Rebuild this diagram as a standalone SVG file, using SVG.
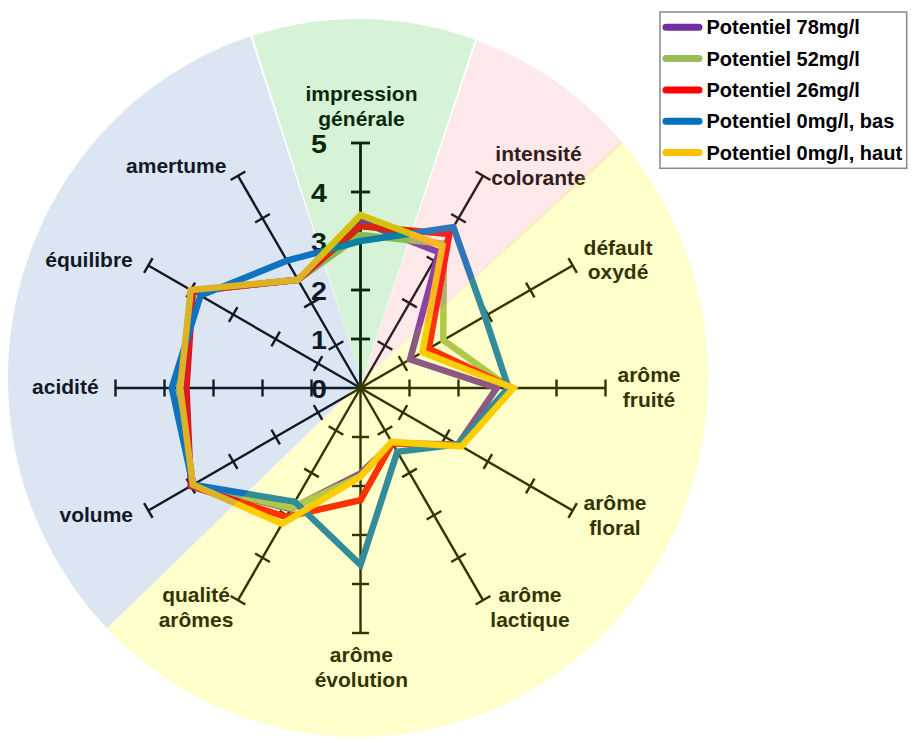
<svg xmlns="http://www.w3.org/2000/svg" width="913" height="743" viewBox="0 0 913 743">
<style>
.lbl{font-family:"Liberation Sans",Arial,sans-serif;font-weight:bold;font-size:21px;fill:#000;text-anchor:middle}
.num{font-family:"Liberation Sans",Arial,sans-serif;font-weight:bold;font-size:25.5px;fill:#000;text-anchor:middle}
.leg{font-family:"Liberation Sans",Arial,sans-serif;font-weight:bold;font-size:20px;fill:#000}
.s{fill:none;stroke-width:6.5;stroke-linejoin:miter;stroke-miterlimit:6}
.sw{stroke-width:7;stroke-linecap:round}
</style>
<defs>
<g id="axis" stroke="#000" stroke-width="2.4">
<line x1="360.5" y1="388" x2="360.5" y2="143"/>
<line x1="352" y1="339" x2="369" y2="339"/>
<line x1="352" y1="290" x2="369" y2="290"/>
<line x1="352" y1="241" x2="369" y2="241"/>
<line x1="352" y1="192" x2="369" y2="192"/>
<line x1="352" y1="143" x2="369" y2="143"/>
</g>
</defs>
<rect width="913" height="743" fill="#fff"/>

<g id="axes">
<g id="axis-impression" stroke="#000" stroke-width="2.8">
<line x1="360.5" y1="388" x2="360.5" y2="143"/>
<line x1="351" y1="339" x2="370" y2="339"/>
<line x1="351" y1="290" x2="370" y2="290"/>
<line x1="351" y1="241" x2="370" y2="241"/>
<line x1="351" y1="192" x2="370" y2="192"/>
<line x1="351" y1="143" x2="370" y2="143"/>
</g>
<use href="#axis" transform="rotate(30 360.5 388)"/>
<use href="#axis" transform="rotate(60 360.5 388)"/>
<use href="#axis" transform="rotate(90 360.5 388)"/>
<use href="#axis" transform="rotate(120 360.5 388)"/>
<use href="#axis" transform="rotate(150 360.5 388)"/>
<use href="#axis" transform="rotate(180 360.5 388)"/>
<use href="#axis" transform="rotate(210 360.5 388)"/>
<use href="#axis" transform="rotate(240 360.5 388)"/>
<use href="#axis" transform="rotate(270 360.5 388)"/>
<use href="#axis" transform="rotate(300 360.5 388)"/>
<use href="#axis" transform="rotate(330 360.5 388)"/>
</g>

<g id="scale">
<g transform="translate(319 0) scale(1.12 1)">
<text class="num" x="0" y="153.5">5</text>
<text class="num" x="0" y="202.5">4</text>
<text class="num" x="0" y="251.5">3</text>
<text class="num" x="0" y="300.5">2</text>
<text class="num" x="0" y="349.5">1</text>
<text class="num" x="0" y="398.5">0</text>
</g>
</g>

<g id="series">
<polygon id="s78" class="s" stroke="#7030A0" points="360.5,221.4 438.9,252.2 410.1,359.3 496.7,388 458.1,444.4 392.4,443.2 360.5,473.3 290.7,509 192.9,484.8 179.2,388 192.9,291.2 298,279.8"/>
<polygon id="s52" class="s" stroke="#9BBB59" points="360.5,235.1 443.8,243.7 443.3,340.2 510,388 460.2,445.6 392.4,443.2 360.5,476.2 291.2,508.1 192.9,484.8 179.2,388 192.9,291.2 298,279.8"/>
<polygon id="s26" class="s" stroke="#FF0000" points="360.5,226.3 449.4,234 428.8,348.6 512.4,388 460.2,445.6 392.4,443.2 360.5,500.2 286,517 190.8,486 186.5,388 192.9,291.2 298,279.8"/>
<polygon id="s0bas" class="s" stroke="#0070C0" points="360.5,241 453.4,227.2 484.8,316.2 508.5,388 458.1,444.4 397.3,451.7 360.5,564.9 294.8,501.7 192.9,484.8 171.8,388 200.5,295.6 287,260.7"/>
<polygon id="s0haut" class="s" stroke="#FFC000" points="360.5,215 442.6,245.8 422.4,352.2 513.4,388 461.5,446.3 391.6,441.9 360.5,476.7 282.1,523.8 192.9,484.8 180.2,388 190.8,290 298,279.8"/>
</g>

<g id="labels">
<g id="lbl-impression"><text class="lbl" x="361.5" y="100.5">impression</text><text class="lbl" x="361.5" y="126">générale</text></g>
<g id="lbl-intensite"><text class="lbl" x="538.5" y="161">intensité</text><text class="lbl" x="538.5" y="185">colorante</text></g>
<g id="lbl-oxyde"><text class="lbl" x="618" y="255">défault</text><text class="lbl" x="618" y="278.5">oxydé</text></g>
<g id="lbl-fruite"><text class="lbl" x="649" y="382">arôme</text><text class="lbl" x="649" y="406.5">fruité</text></g>
<g id="lbl-floral"><text class="lbl" x="615" y="510">arôme</text><text class="lbl" x="615" y="535">floral</text></g>
<g id="lbl-lactique"><text class="lbl" x="530" y="602.3">arôme</text><text class="lbl" x="530" y="627.3">lactique</text></g>
<g id="lbl-evolution"><text class="lbl" x="361.3" y="662.3">arôme</text><text class="lbl" x="361.3" y="686.7">évolution</text></g>
<g id="lbl-qualite"><text class="lbl" x="196" y="602.3">qualité</text><text class="lbl" x="196" y="627.3">arômes</text></g>
<g id="lbl-volume"><text class="lbl" x="96.3" y="521.7">volume</text></g>
<g id="lbl-acidite"><text class="lbl" x="65.3" y="394.3">acidité</text></g>
<g id="lbl-equilibre"><text class="lbl" x="89" y="266.7">équilibre</text></g>
<g id="lbl-amertume"><text class="lbl" x="176.3" y="173.3">amertume</text></g>
</g>

<g id="overlay" stroke="none">
<path fill="#FFFF00" fill-opacity="0.2" d="M362,381 L621,141.1 A350,359 0 0 1 708,378 A350,359 0 0 1 107,628.2 Z"/>
<path fill="#5082BE" fill-opacity="0.2" d="M362,381 L107,628.2 A350,359 0 0 1 250.3,36.4 Z"/>
<path fill="#32C337" fill-opacity="0.2" d="M362,381 L252.5,35.7 A350,359 0 0 1 475,39.6 Z"/>
<path fill="#F59196" fill-opacity="0.2" d="M362,381 L477,40.4 A350,359 0 0 1 623,143.5 Z"/>
</g>

<g id="legend">
<rect x="660" y="12" width="246.7" height="156.3" fill="#fff" stroke="#888" stroke-width="1.5"/>
<line class="sw" x1="666" y1="27.3" x2="699" y2="27.3" stroke="#7030A0"/>
<line class="sw" x1="666" y1="58.6" x2="699" y2="58.6" stroke="#9BBB59"/>
<line class="sw" x1="666" y1="89.9" x2="699" y2="89.9" stroke="#FF0000"/>
<line class="sw" x1="666" y1="121.2" x2="699" y2="121.2" stroke="#0070C0"/>
<line class="sw" x1="666" y1="152.5" x2="699" y2="152.5" stroke="#FFC000"/>
<text class="leg" x="706.5" y="34.3">Potentiel 78mg/l</text>
<text class="leg" x="706.5" y="65.6">Potentiel 52mg/l</text>
<text class="leg" x="706.5" y="96.9">Potentiel 26mg/l</text>
<text class="leg" x="706.5" y="128.2">Potentiel 0mg/l, bas</text>
<text class="leg" x="706.5" y="159.5">Potentiel 0mg/l, haut</text>
</g>
</svg>
